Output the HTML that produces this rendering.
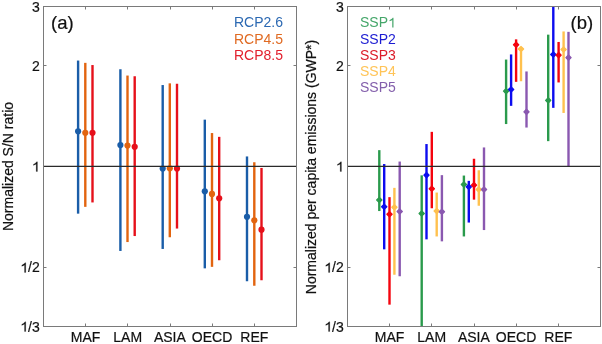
<!DOCTYPE html><html><head><meta charset="utf-8"><style>html,body{margin:0;padding:0;background:#fff;width:602px;height:344px;overflow:hidden}svg{position:absolute;left:0;top:0;will-change:transform}</style></head><body>
<svg width="602" height="344" viewBox="0 0 602 344" font-family="Liberation Sans, sans-serif">
<line x1="78.1" y1="60.55" x2="78.1" y2="213.65" stroke="#1a5da8" stroke-width="2.4"/>
<circle cx="78.1" cy="131.25" r="3.1" fill="#1a5da8"/>
<line x1="85.3" y1="62.85" x2="85.3" y2="206.85" stroke="#e2640f" stroke-width="2.4"/>
<circle cx="85.3" cy="132.75" r="3.1" fill="#e2640f"/>
<line x1="92.5" y1="65.05" x2="92.5" y2="202.45" stroke="#e6101a" stroke-width="2.4"/>
<circle cx="92.5" cy="132.75" r="3.1" fill="#e6101a"/>
<line x1="120.4" y1="69.25" x2="120.4" y2="250.95" stroke="#1a5da8" stroke-width="2.4"/>
<circle cx="120.4" cy="145.05" r="3.1" fill="#1a5da8"/>
<line x1="127.5" y1="75.55" x2="127.5" y2="242.05" stroke="#e2640f" stroke-width="2.4"/>
<circle cx="127.5" cy="145.55" r="3.1" fill="#e2640f"/>
<line x1="134.7" y1="76.25" x2="134.7" y2="236.05" stroke="#e6101a" stroke-width="2.4"/>
<circle cx="134.7" cy="146.85" r="3.1" fill="#e6101a"/>
<line x1="162.7" y1="85.05" x2="162.7" y2="248.95" stroke="#1a5da8" stroke-width="2.4"/>
<circle cx="162.7" cy="168.55" r="3.1" fill="#1a5da8"/>
<line x1="169.8" y1="83.35" x2="169.8" y2="237.25" stroke="#e2640f" stroke-width="2.4"/>
<circle cx="169.8" cy="168.35" r="3.1" fill="#e2640f"/>
<line x1="177.0" y1="83.75" x2="177.0" y2="228.55" stroke="#e6101a" stroke-width="2.4"/>
<circle cx="177.0" cy="168.55" r="3.1" fill="#e6101a"/>
<line x1="204.8" y1="119.65" x2="204.8" y2="268.35" stroke="#1a5da8" stroke-width="2.4"/>
<circle cx="204.8" cy="191.35" r="3.1" fill="#1a5da8"/>
<line x1="212.0" y1="133.05" x2="212.0" y2="266.85" stroke="#e2640f" stroke-width="2.4"/>
<circle cx="212.0" cy="193.95" r="3.1" fill="#e2640f"/>
<line x1="219.2" y1="136.85" x2="219.2" y2="260.25" stroke="#e6101a" stroke-width="2.4"/>
<circle cx="219.2" cy="198.35" r="3.1" fill="#e6101a"/>
<line x1="247.0" y1="156.45" x2="247.0" y2="281.25" stroke="#1a5da8" stroke-width="2.4"/>
<circle cx="247.0" cy="216.85" r="3.1" fill="#1a5da8"/>
<line x1="254.3" y1="162.25" x2="254.3" y2="285.75" stroke="#e2640f" stroke-width="2.4"/>
<circle cx="254.3" cy="220.35" r="3.1" fill="#e2640f"/>
<line x1="261.5" y1="167.95" x2="261.5" y2="280.25" stroke="#e6101a" stroke-width="2.4"/>
<circle cx="261.5" cy="229.65" r="3.1" fill="#e6101a"/>
<line x1="43" y1="166.4" x2="296" y2="166.4" stroke="#2a2a2a" stroke-width="1.3"/>
<rect x="43.5" y="6.5" width="253" height="320" fill="none" stroke="#7a7a7a" stroke-width="1"/>
<line x1="85.5" y1="326.5" x2="85.5" y2="323.5" stroke="#7a7a7a"/>
<line x1="85.5" y1="6.5" x2="85.5" y2="9.5" stroke="#7a7a7a"/>
<line x1="127.5" y1="326.5" x2="127.5" y2="323.5" stroke="#7a7a7a"/>
<line x1="127.5" y1="6.5" x2="127.5" y2="9.5" stroke="#7a7a7a"/>
<line x1="170.5" y1="326.5" x2="170.5" y2="323.5" stroke="#7a7a7a"/>
<line x1="170.5" y1="6.5" x2="170.5" y2="9.5" stroke="#7a7a7a"/>
<line x1="212.5" y1="326.5" x2="212.5" y2="323.5" stroke="#7a7a7a"/>
<line x1="212.5" y1="6.5" x2="212.5" y2="9.5" stroke="#7a7a7a"/>
<line x1="254.5" y1="326.5" x2="254.5" y2="323.5" stroke="#7a7a7a"/>
<line x1="254.5" y1="6.5" x2="254.5" y2="9.5" stroke="#7a7a7a"/>
<line x1="43.5" y1="65.5" x2="46.5" y2="65.5" stroke="#7a7a7a"/>
<line x1="296.5" y1="65.5" x2="293.5" y2="65.5" stroke="#7a7a7a"/>
<line x1="43.5" y1="267.5" x2="46.5" y2="267.5" stroke="#7a7a7a"/>
<line x1="296.5" y1="267.5" x2="293.5" y2="267.5" stroke="#7a7a7a"/>
<text x="31.96" y="11.50" font-size="14" fill="#111" stroke="#111" stroke-width="0.2">3</text>
<text x="31.96" y="70.55" font-size="14" fill="#111" stroke="#111" stroke-width="0.2">2</text>
<path transform="translate(31.96,171.50) scale(0.006836,-0.006836)" d="M800 0H620V1100Q540 1040 420 980Q310 921 223 890V1058Q380 1126 500 1222Q625 1318 680 1409H800Z" fill="#111" stroke="#111" stroke-width="29.3"/>
<path transform="translate(20.29,272.45) scale(0.006836,-0.006836)" d="M800 0H620V1100Q540 1040 420 980Q310 921 223 890V1058Q380 1126 500 1222Q625 1318 680 1409H800Z" fill="#111" stroke="#111" stroke-width="29.3"/><text x="28.07" y="272.45" font-size="14" fill="#111" stroke="#111" stroke-width="0.2">/2</text>
<path transform="translate(20.29,331.50) scale(0.006836,-0.006836)" d="M800 0H620V1100Q540 1040 420 980Q310 921 223 890V1058Q380 1126 500 1222Q625 1318 680 1409H800Z" fill="#111" stroke="#111" stroke-width="29.3"/><text x="28.07" y="331.50" font-size="14" fill="#111" stroke="#111" stroke-width="0.2">/3</text>
<text x="85.5" y="341.5" font-size="14" text-anchor="middle" fill="#111" stroke="#111" stroke-width="0.2">MAF</text>
<text x="127.7" y="341.5" font-size="14" text-anchor="middle" fill="#111" stroke="#111" stroke-width="0.2">LAM</text>
<text x="169.90000000000003" y="341.5" font-size="14" text-anchor="middle" fill="#111" stroke="#111" stroke-width="0.2">ASIA</text>
<text x="212.10000000000002" y="341.5" font-size="14" text-anchor="middle" fill="#111" stroke="#111" stroke-width="0.2">OECD</text>
<text x="254.3" y="341.5" font-size="14" text-anchor="middle" fill="#111" stroke="#111" stroke-width="0.2">REF</text>
<text x="51" y="28.8" font-size="18.5" fill="#111" stroke="#111" stroke-width="0.2">(a)</text>
<text transform="translate(12.5,166.5) rotate(-90)" x="0" y="0" font-size="14" text-anchor="middle" fill="#111" stroke="#111" stroke-width="0.2">Normalized S/N ratio</text>
<text x="234.00" y="27.40" font-size="14" fill="#2b68b2">RCP2.6</text>
<text x="234.00" y="43.60" font-size="14" fill="#e06a22">RCP4.5</text>
<text x="234.00" y="59.80" font-size="14" fill="#e2202e">RCP8.5</text>
<line x1="379.3" y1="150.15" x2="379.3" y2="211.05" stroke="#2a9a4c" stroke-width="2.4"/>
<path d="M379.3 197.45000000000002L381.90000000000003 200.05L379.3 202.65L376.7 200.05Z" fill="#2a9a4c" stroke="#2a9a4c" stroke-width="1.3" stroke-linejoin="round"/>
<line x1="384.2" y1="164.05" x2="384.2" y2="249.35" stroke="#0c0cef" stroke-width="2.4"/>
<path d="M384.2 204.15L386.8 206.75L384.2 209.35L381.59999999999997 206.75Z" fill="#0c0cef" stroke="#0c0cef" stroke-width="1.3" stroke-linejoin="round"/>
<line x1="389.5" y1="197.15" x2="389.5" y2="304.65" stroke="#f4040e" stroke-width="2.4"/>
<path d="M389.5 211.65L392.1 214.25L389.5 216.85L386.9 214.25Z" fill="#f4040e" stroke="#f4040e" stroke-width="1.3" stroke-linejoin="round"/>
<line x1="394.4" y1="187.85" x2="394.4" y2="274.75" stroke="#ffc14e" stroke-width="2.4"/>
<path d="M394.4 204.65L397.0 207.25L394.4 209.85L391.79999999999995 207.25Z" fill="#ffc14e" stroke="#ffc14e" stroke-width="1.3" stroke-linejoin="round"/>
<line x1="399.7" y1="161.55" x2="399.7" y2="276.25" stroke="#8a58b0" stroke-width="2.4"/>
<path d="M399.7 208.85L402.3 211.45L399.7 214.04999999999998L397.09999999999997 211.45Z" fill="#8a58b0" stroke="#8a58b0" stroke-width="1.3" stroke-linejoin="round"/>
<line x1="421.7" y1="175.35" x2="421.7" y2="326.5" stroke="#2a9a4c" stroke-width="2.4"/>
<path d="M421.7 210.95000000000002L424.3 213.55L421.7 216.15L419.09999999999997 213.55Z" fill="#2a9a4c" stroke="#2a9a4c" stroke-width="1.3" stroke-linejoin="round"/>
<line x1="426.5" y1="144.05" x2="426.5" y2="239.35" stroke="#0c0cef" stroke-width="2.4"/>
<path d="M426.5 172.55L429.1 175.15L426.5 177.75L423.9 175.15Z" fill="#0c0cef" stroke="#0c0cef" stroke-width="1.3" stroke-linejoin="round"/>
<line x1="431.8" y1="131.85" x2="431.8" y2="208.25" stroke="#f4040e" stroke-width="2.4"/>
<path d="M431.8 186.15L434.40000000000003 188.75L431.8 191.35L429.2 188.75Z" fill="#f4040e" stroke="#f4040e" stroke-width="1.3" stroke-linejoin="round"/>
<line x1="436.7" y1="192.55" x2="436.7" y2="236.45" stroke="#ffc14e" stroke-width="2.4"/>
<path d="M436.7 208.35L439.3 210.95L436.7 213.54999999999998L434.09999999999997 210.95Z" fill="#ffc14e" stroke="#ffc14e" stroke-width="1.3" stroke-linejoin="round"/>
<line x1="441.9" y1="175.15" x2="441.9" y2="241.35" stroke="#8a58b0" stroke-width="2.4"/>
<path d="M441.9 209.15L444.5 211.75L441.9 214.35L439.29999999999995 211.75Z" fill="#8a58b0" stroke="#8a58b0" stroke-width="1.3" stroke-linejoin="round"/>
<line x1="463.9" y1="175.55" x2="463.9" y2="236.45" stroke="#2a9a4c" stroke-width="2.4"/>
<path d="M463.9 181.95000000000002L466.5 184.55L463.9 187.15L461.29999999999995 184.55Z" fill="#2a9a4c" stroke="#2a9a4c" stroke-width="1.3" stroke-linejoin="round"/>
<line x1="468.8" y1="180.85" x2="468.8" y2="222.55" stroke="#0c0cef" stroke-width="2.4"/>
<path d="M468.8 184.25L471.40000000000003 186.85L468.8 189.45L466.2 186.85Z" fill="#0c0cef" stroke="#0c0cef" stroke-width="1.3" stroke-linejoin="round"/>
<line x1="474.0" y1="158.75" x2="474.0" y2="199.65" stroke="#f4040e" stroke-width="2.4"/>
<path d="M474.0 182.55L476.6 185.15L474.0 187.75L471.4 185.15Z" fill="#f4040e" stroke="#f4040e" stroke-width="1.3" stroke-linejoin="round"/>
<line x1="478.8" y1="170.25" x2="478.8" y2="205.75" stroke="#ffc14e" stroke-width="2.4"/>
<path d="M478.8 186.85L481.40000000000003 189.45L478.8 192.04999999999998L476.2 189.45Z" fill="#ffc14e" stroke="#ffc14e" stroke-width="1.3" stroke-linejoin="round"/>
<line x1="484.0" y1="147.45" x2="484.0" y2="230.05" stroke="#8a58b0" stroke-width="2.4"/>
<path d="M484.0 186.85L486.6 189.45L484.0 192.04999999999998L481.4 189.45Z" fill="#8a58b0" stroke="#8a58b0" stroke-width="1.3" stroke-linejoin="round"/>
<line x1="506.1" y1="59.55" x2="506.1" y2="124.05" stroke="#2a9a4c" stroke-width="2.4"/>
<path d="M506.1 88.55000000000001L508.70000000000005 91.15L506.1 93.75L503.5 91.15Z" fill="#2a9a4c" stroke="#2a9a4c" stroke-width="1.3" stroke-linejoin="round"/>
<line x1="511.1" y1="54.45" x2="511.1" y2="105.85" stroke="#0c0cef" stroke-width="2.4"/>
<path d="M511.1 86.85000000000001L513.7 89.45L511.1 92.05L508.5 89.45Z" fill="#0c0cef" stroke="#0c0cef" stroke-width="1.3" stroke-linejoin="round"/>
<line x1="516.1" y1="39.35" x2="516.1" y2="81.85" stroke="#f4040e" stroke-width="2.4"/>
<path d="M516.1 42.15L518.7 44.75L516.1 47.35L513.5 44.75Z" fill="#f4040e" stroke="#f4040e" stroke-width="1.3" stroke-linejoin="round"/>
<line x1="521.0" y1="47.25" x2="521.0" y2="81.25" stroke="#ffc14e" stroke-width="2.4"/>
<path d="M521.0 46.449999999999996L523.6 49.05L521.0 51.65L518.4 49.05Z" fill="#ffc14e" stroke="#ffc14e" stroke-width="1.3" stroke-linejoin="round"/>
<line x1="526.5" y1="71.45" x2="526.5" y2="127.55" stroke="#8a58b0" stroke-width="2.4"/>
<path d="M526.5 109.25L529.1 111.85L526.5 114.44999999999999L523.9 111.85Z" fill="#8a58b0" stroke="#8a58b0" stroke-width="1.3" stroke-linejoin="round"/>
<line x1="548.2" y1="34.65" x2="548.2" y2="141.15" stroke="#2a9a4c" stroke-width="2.4"/>
<path d="M548.2 97.75L550.8000000000001 100.35L548.2 102.94999999999999L545.6 100.35Z" fill="#2a9a4c" stroke="#2a9a4c" stroke-width="1.3" stroke-linejoin="round"/>
<line x1="553.3" y1="6.75" x2="553.3" y2="107.85" stroke="#0c0cef" stroke-width="2.4"/>
<path d="M553.3 51.949999999999996L555.9 54.55L553.3 57.15L550.6999999999999 54.55Z" fill="#0c0cef" stroke="#0c0cef" stroke-width="1.3" stroke-linejoin="round"/>
<line x1="558.6" y1="41.95" x2="558.6" y2="82.45" stroke="#f4040e" stroke-width="2.4"/>
<path d="M558.6 52.55L561.2 55.15L558.6 57.75L556.0 55.15Z" fill="#f4040e" stroke="#f4040e" stroke-width="1.3" stroke-linejoin="round"/>
<line x1="563.6" y1="31.45" x2="563.6" y2="112.95" stroke="#ffc14e" stroke-width="2.4"/>
<path d="M563.6 46.949999999999996L566.2 49.55L563.6 52.15L561.0 49.55Z" fill="#ffc14e" stroke="#ffc14e" stroke-width="1.3" stroke-linejoin="round"/>
<line x1="568.5" y1="31.85" x2="568.5" y2="166.25" stroke="#8a58b0" stroke-width="2.4"/>
<path d="M568.5 55.05L571.1 57.65L568.5 60.25L565.9 57.65Z" fill="#8a58b0" stroke="#8a58b0" stroke-width="1.3" stroke-linejoin="round"/>
<line x1="347" y1="166.4" x2="600" y2="166.4" stroke="#2a2a2a" stroke-width="1.3"/>
<rect x="347.5" y="6.5" width="253" height="320" fill="none" stroke="#7a7a7a" stroke-width="1"/>
<line x1="389.5" y1="326.5" x2="389.5" y2="323.5" stroke="#7a7a7a"/>
<line x1="389.5" y1="6.5" x2="389.5" y2="9.5" stroke="#7a7a7a"/>
<line x1="431.5" y1="326.5" x2="431.5" y2="323.5" stroke="#7a7a7a"/>
<line x1="431.5" y1="6.5" x2="431.5" y2="9.5" stroke="#7a7a7a"/>
<line x1="474.5" y1="326.5" x2="474.5" y2="323.5" stroke="#7a7a7a"/>
<line x1="474.5" y1="6.5" x2="474.5" y2="9.5" stroke="#7a7a7a"/>
<line x1="516.5" y1="326.5" x2="516.5" y2="323.5" stroke="#7a7a7a"/>
<line x1="516.5" y1="6.5" x2="516.5" y2="9.5" stroke="#7a7a7a"/>
<line x1="558.5" y1="326.5" x2="558.5" y2="323.5" stroke="#7a7a7a"/>
<line x1="558.5" y1="6.5" x2="558.5" y2="9.5" stroke="#7a7a7a"/>
<line x1="347.5" y1="65.5" x2="350.5" y2="65.5" stroke="#7a7a7a"/>
<line x1="600.5" y1="65.5" x2="597.5" y2="65.5" stroke="#7a7a7a"/>
<line x1="347.5" y1="267.5" x2="350.5" y2="267.5" stroke="#7a7a7a"/>
<line x1="600.5" y1="267.5" x2="597.5" y2="267.5" stroke="#7a7a7a"/>
<text x="335.96" y="11.50" font-size="14" fill="#111" stroke="#111" stroke-width="0.2">3</text>
<text x="335.96" y="70.55" font-size="14" fill="#111" stroke="#111" stroke-width="0.2">2</text>
<path transform="translate(335.96,171.50) scale(0.006836,-0.006836)" d="M800 0H620V1100Q540 1040 420 980Q310 921 223 890V1058Q380 1126 500 1222Q625 1318 680 1409H800Z" fill="#111" stroke="#111" stroke-width="29.3"/>
<path transform="translate(324.29,272.45) scale(0.006836,-0.006836)" d="M800 0H620V1100Q540 1040 420 980Q310 921 223 890V1058Q380 1126 500 1222Q625 1318 680 1409H800Z" fill="#111" stroke="#111" stroke-width="29.3"/><text x="332.07" y="272.45" font-size="14" fill="#111" stroke="#111" stroke-width="0.2">/2</text>
<path transform="translate(324.29,331.50) scale(0.006836,-0.006836)" d="M800 0H620V1100Q540 1040 420 980Q310 921 223 890V1058Q380 1126 500 1222Q625 1318 680 1409H800Z" fill="#111" stroke="#111" stroke-width="29.3"/><text x="332.07" y="331.50" font-size="14" fill="#111" stroke="#111" stroke-width="0.2">/3</text>
<text x="389.5" y="341.5" font-size="14" text-anchor="middle" fill="#111" stroke="#111" stroke-width="0.2">MAF</text>
<text x="431.7" y="341.5" font-size="14" text-anchor="middle" fill="#111" stroke="#111" stroke-width="0.2">LAM</text>
<text x="473.90000000000003" y="341.5" font-size="14" text-anchor="middle" fill="#111" stroke="#111" stroke-width="0.2">ASIA</text>
<text x="516.0999999999999" y="341.5" font-size="14" text-anchor="middle" fill="#111" stroke="#111" stroke-width="0.2">OECD</text>
<text x="558.3" y="341.5" font-size="14" text-anchor="middle" fill="#111" stroke="#111" stroke-width="0.2">REF</text>
<text x="570.5" y="28.8" font-size="18.5" fill="#111" stroke="#111" stroke-width="0.2">(b)</text>
<text transform="translate(316,167) rotate(-90)" x="0" y="0" font-size="14" text-anchor="middle" fill="#111" stroke="#111" stroke-width="0.2">Normalized per capita emissions (GWP*)</text>
<text x="360.00" y="27.40" font-size="14" fill="#45a66a">SSP</text><path transform="translate(388.01,27.40) scale(0.006836,-0.006836)" d="M800 0H620V1100Q540 1040 420 980Q310 921 223 890V1058Q380 1126 500 1222Q625 1318 680 1409H800Z" fill="#45a66a"/>
<text x="360.00" y="43.60" font-size="14" fill="#1c1cd2">SSP2</text>
<text x="360.00" y="59.80" font-size="14" fill="#dc1c2a">SSP3</text>
<text x="360.00" y="76.00" font-size="14" fill="#ffc458">SSP4</text>
<text x="360.00" y="92.20" font-size="14" fill="#8460ac">SSP5</text>
</svg></body></html>
